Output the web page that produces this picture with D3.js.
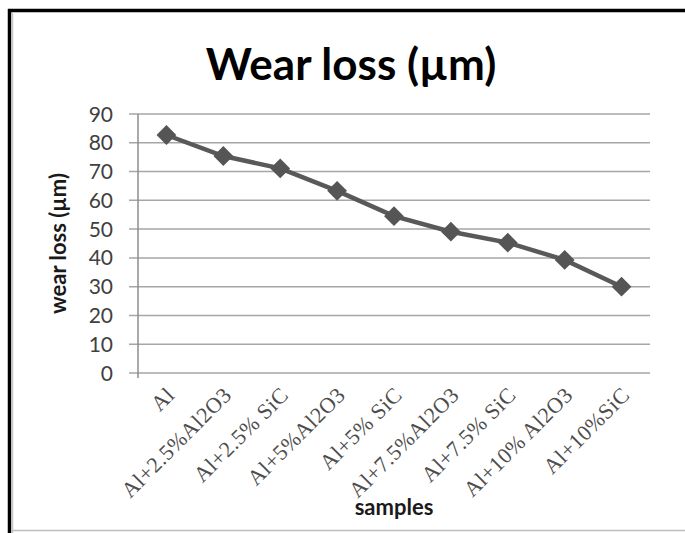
<!DOCTYPE html>
<html>
<head>
<meta charset="utf-8">
<script src="https://cdn.jsdelivr.net/npm/d3@7"></script>
<style>
  body { margin: 0; background: #fff; }
  .gridLine { stroke: #a6a6a6; stroke-width: 1.5; }
  .tickText { font-family: Lato, sans-serif; font-size: 21px; fill: #404040; }
  .catText { font-family: "Liberation Serif", serif; font-size: 22px; fill: #4d4d4d; letter-spacing: 0.4px; }
  .axisTitle { font-family: Lato, sans-serif; font-weight: bold; font-size: 22px; fill: #1a1a1a; }
</style>
</head>
<body>
<div id="chart"></div>
<script>
// data
var samples = ["Al", "Al+2.5%Al2O3", "Al+2.5% SiC", "Al+5%Al2O3", "Al+5% SiC",
  "Al+7.5%Al2O3", "Al+7.5% SiC", "Al+10% Al2O3", "Al+10%SiC"]
var wearLoss = [82.7, 75.4, 71.1, 63.3, 54.5, 49.1, 45.3, 39.3, 30.0]
var yTicks = [0, 10, 20, 30, 40, 50, 60, 70, 80, 90]

var width = 685, height = 533
var plotL = 138, plotR = 650, plotT = 114, plotB = 373

var svg = d3.select("#chart").append("svg")
  .attr("width", width)
  .attr("height", height)

/* frame */
svg.append("line")
  .attr("x1", 8).attr("x2", width).attr("y1", 10.5).attr("y2", 10.5)
  .attr("stroke", "#000").attr("stroke-width", 3.5)
svg.append("line")
  .attr("x1", 9.5).attr("x2", 9.5).attr("y1", 9).attr("y2", height)
  .attr("stroke", "#000").attr("stroke-width", 3.5)
svg.append("line")
  .attr("x1", 12.5).attr("x2", 12.5).attr("y1", 13).attr("y2", height)
  .attr("stroke", "#c8c8c8").attr("stroke-width", 1.5)
svg.append("line")
  .attr("x1", 12).attr("x2", width).attr("y1", 530.5).attr("y2", 530.5)
  .attr("stroke", "#bdbdbd").attr("stroke-width", 1.5)

/* scales */
var xScale = d3.scalePoint()
  .domain(samples)
  .range([plotL, plotR])
  .padding(0.5)
var yScale = d3.scaleLinear()
  .domain([0, 90])
  .range([plotB, plotT])

/* horizontal grid + y ticks */
svg.selectAll(".gridLine")
  .data(yTicks)
  .enter()
  .append("line")
  .attr("class", "gridLine")
  .attr("x1", plotL - 9)
  .attr("x2", plotR)
  .attr("y1", function(d) { return yScale(d) })
  .attr("y2", function(d) { return yScale(d) })

svg.selectAll(".tickText")
  .data(yTicks)
  .enter()
  .append("text")
  .attr("class", "tickText")
  .attr("text-anchor", "end")
  .attr("x", plotL - 25)
  .attr("y", function(d) { return yScale(d) })
  .attr("dy", "0.36em")
  .text(function(d) { return d })

/* y axis line */
svg.append("line")
  .attr("x1", plotL).attr("x2", plotL)
  .attr("y1", plotT).attr("y2", plotB + 5)
  .attr("stroke", "#8c8c8c").attr("stroke-width", 1.5)

/* category labels */
svg.selectAll(".catText")
  .data(samples)
  .enter()
  .append("text")
  .attr("class", "catText")
  .attr("text-anchor", "end")
  .attr("transform", function(d) {
    return "translate(" + (xScale(d) + 4) + "," + (plotB + 18) + ") rotate(-45)"
  })
  .attr("dy", "0.35em")
  .text(function(d) { return d })

/* line + markers */
var line = d3.line()
  .x(function(d, i) { return xScale(samples[i]) })
  .y(function(d) { return yScale(d) })

svg.append("path")
  .attr("d", line(wearLoss))
  .attr("fill", "none")
  .attr("stroke", "#595959")
  .attr("stroke-width", 4.5)

var diamond = d3.symbol().type(d3.symbolDiamond2).size(250)
svg.selectAll(".marker")
  .data(wearLoss)
  .enter()
  .append("path")
  .attr("class", "marker")
  .attr("d", diamond)
  .attr("fill", "#555555")
  .attr("transform", function(d, i) {
    return "translate(" + xScale(samples[i]) + "," + yScale(d) + ")"
  })

/* titles */
svg.append("text")
  .attr("x", 351)
  .attr("y", 80)
  .attr("text-anchor", "middle")
  .attr("font-family", "Lato, sans-serif")
  .attr("font-weight", "bold")
  .attr("font-size", "44px")
  .attr("fill", "#000")
  .text("Wear loss (µm)")

svg.append("text")
  .attr("class", "axisTitle")
  .attr("text-anchor", "middle")
  .attr("transform", "translate(66," + ((plotT + plotB) / 2) + ") rotate(-90)")
  .text("wear loss (µm)")

svg.append("text")
  .attr("class", "axisTitle")
  .attr("text-anchor", "middle")
  .attr("x", (plotL + plotR) / 2)
  .attr("y", 515)
  .text("samples")
</script>
</body>
</html>
